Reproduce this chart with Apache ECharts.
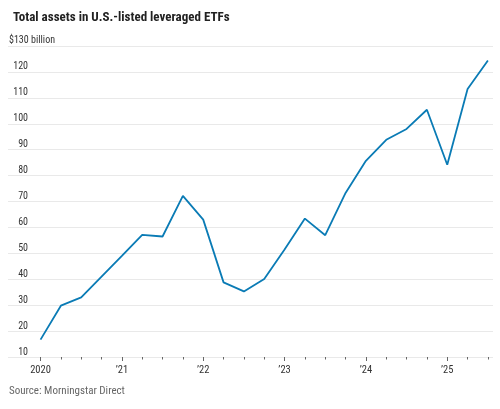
<!DOCTYPE html>
<html>
<head>
<meta charset="utf-8">
<script src="https://cdn.jsdelivr.net/npm/echarts@6/dist/echarts.min.js"></script>
<style>
  html, body { margin: 0; padding: 0; background: #fff; }
  #chart { width: 500px; height: 409px; }
</style>
</head>
<body>
<div id="chart"></div>
<script>
// quarterly points, 2020 Q1 .. 2025 Q3 ($ billion)
const quarters = ['2020Q1','2020Q2','2020Q3','2020Q4','2021Q1','2021Q2','2021Q3','2021Q4',
    '2022Q1','2022Q2','2022Q3','2022Q4','2023Q1','2023Q2','2023Q3','2023Q4',
    '2024Q1','2024Q2','2024Q3','2024Q4','2025Q1','2025Q2','2025Q3'];
const assets = [16.7, 29.8, 33, 41, 49, 57.1, 56.5, 72.2,
    63, 38.8, 35.3, 40.1, 51.5, 63.4, 57, 73.3,
    85.7, 93.8, 98, 105.4, 84.2, 113.4, 124.4];
const yearLabels = ['2020', '\u201921', '\u201922', '\u201923', '\u201924', '\u201925'];
const yearIdx = [0, 4, 8, 12, 16, 20];

const FONT = '"Roboto Condensed", "Liberation Sans", sans-serif';

var myChart = echarts.init(document.getElementById('chart'));
myChart.setOption({
    animation: false,
    title: {
        text: 'Total assets in U.S.-listed leveraged ETFs',
        left: 8, top: 6,
        textStyle: { fontFamily: FONT, fontSize: 13, fontWeight: 'bold', color: '#222' }
    },
    graphic: [{
        // unit label sitting on the top gridline
        type: 'text', left: 9, top: 35,
        style: { text: '$130 billion', font: '10px ' + FONT, fill: '#333' }
    }, {
        type: 'text', left: 9, top: 386,
        style: { text: 'Source: Morningstar Direct', font: '11px ' + FONT, fill: '#666' }
    }],
    grid: { left: 8, right: 7, top: 46, bottom: 52, outerBoundsMode: 'none' },
    xAxis: [{
        type: 'value', min: -1.6, max: 22.25,
        splitLine: { show: false },
        axisLine: { show: false },
        axisTick: { show: true, length: 4, customValues: yearIdx, lineStyle: { color: '#666' } },
        axisLabel: {
            customValues: yearIdx, margin: 8,
            fontFamily: FONT, fontSize: 10.5, color: '#333',
            formatter: (v) => yearLabels[yearIdx.indexOf(v)]
        }
    }, {
        type: 'value', min: -1.6, max: 22.25, position: 'bottom',
        splitLine: { show: false },
        axisLine: { show: false },
        axisTick: { show: true, length: 2.5, customValues: quarters.map((q, i) => i), lineStyle: { color: '#666' } },
        axisLabel: { show: false }
    }],
    yAxis: {
        type: 'value', min: 10, max: 130, interval: 10,
        axisLine: { show: false },
        axisTick: { show: false },
        splitLine: { lineStyle: { color: '#e9e9e9', width: 1.2 } },
        axisLabel: {
            align: 'right', verticalAlign: 'bottom', margin: -20,
            padding: [0, 0, 0, 0],
            fontFamily: FONT, fontSize: 10, color: '#333',
            formatter: (v) => v === 130 ? '' : String(v)
        }
    },
    series: [{
        type: 'line',
        data: assets.map((v, i) => [i, v]),
        symbol: 'none',
        lineStyle: { color: '#0a7bb5', width: 1.8 }
    }]
});
</script>
</body>
</html>
